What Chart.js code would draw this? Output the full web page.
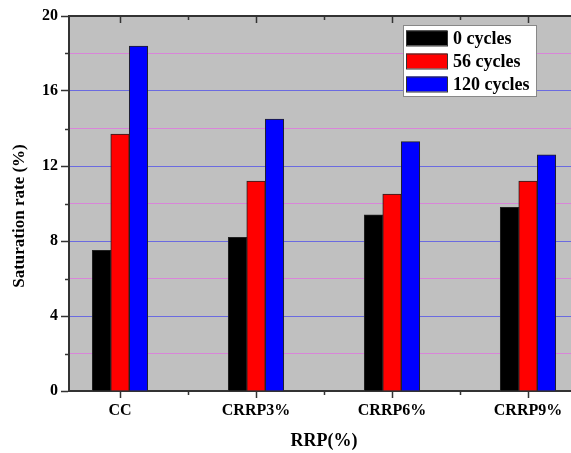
<!DOCTYPE html>
<html>
<head>
<meta charset="utf-8">
<script src="https://cdn.jsdelivr.net/npm/chart.js@4/dist/chart.umd.min.js"></script>
<style>
html, body { margin: 0; padding: 0; overflow: hidden; background: #fff; }
#wrap { width: 580px; height: 453px; }
</style>
</head>
<body>
<div id="wrap"><canvas id="chart" width="580" height="453"></canvas></div>
<script>
// Data
var categories = ["CC", "CRRP3%", "CRRP6%", "CRRP9%"];
var seriesNames = ["0 cycles", "56 cycles", "120 cycles"];
var cycles0 = [7.5, 8.2, 9.4, 9.8];
var cycles56 = [13.7, 11.2, 10.5, 11.2];
var cycles120 = [18.4, 14.5, 13.3, 12.6];
var yTickLabels = [0, 4, 8, 12, 16, 20];

var colors = ["#000000", "#ff0000", "#0000ff"];
var FONT = "'Liberation Serif', 'Times New Roman', serif";

function toPoints(arr) {
  return arr.map(function (v, i) { return { x: i, y: v }; });
}

function isMajorY(v) { return yTickLabels.indexOf(v) >= 0; }

// Background, frame, minor ticks, legend and y title
var framePlugin = {
  id: "frame",
  beforeDraw: function (chart) {
    var a = chart.chartArea, ctx = chart.ctx;
    ctx.save();
    ctx.fillStyle = "#c0c0c0";
    ctx.fillRect(a.left, a.top, a.right - a.left, a.bottom - a.top);
    ctx.restore();
  },
  afterDraw: function (chart) {
    var a = chart.chartArea, ctx = chart.ctx;
    var xs = chart.scales.x, ys = chart.scales.y;
    ctx.save();
    ctx.strokeStyle = "#333";
    ctx.lineWidth = 2;
    ctx.beginPath();
    ctx.moveTo(a.left, a.top);
    ctx.lineTo(a.right, a.top);
    ctx.stroke();

    ctx.lineWidth = 1.5;
    // x ticks on top (inward) and minor ticks at bottom
    for (var v = 0; v <= categories.length - 1; v += 0.5) {
      var px = Math.round(xs.getPixelForValue(v)) + 0.5;
      var major = v % 1 === 0;
      ctx.beginPath();
      ctx.moveTo(px, a.top);
      ctx.lineTo(px, a.top + (major ? 7 : 4));
      if (!major) {
        ctx.moveTo(px, a.bottom);
        ctx.lineTo(px, a.bottom + 4);
      }
      ctx.stroke();
    }
    // y minor ticks
    for (var t = 2; t < 20; t += 4) {
      var py = Math.round(ys.getPixelForValue(t)) + 0.5;
      ctx.beginPath();
      ctx.moveTo(a.left - 4, py);
      ctx.lineTo(a.left, py);
      ctx.stroke();
    }

    // y axis title
    ctx.fillStyle = "#000";
    ctx.font = "bold 17px " + FONT;
    ctx.textAlign = "center";
    ctx.textBaseline = "middle";
    ctx.translate(20, 216);
    ctx.rotate(-Math.PI / 2);
    ctx.fillText("Saturation rate (%)", 0, 0);
    ctx.setTransform(1, 0, 0, 1, 0, 0);

    // legend box
    ctx.fillStyle = "#fff";
    ctx.fillRect(403, 25, 133, 71);
    ctx.strokeStyle = "#888";
    ctx.lineWidth = 1;
    ctx.strokeRect(403.5, 25.5, 133, 71);
    ctx.font = "bold 18px " + FONT;
    ctx.textAlign = "left";
    chart.data.datasets.forEach(function (ds, i) {
      var cy = 38 + i * 23;
      ctx.fillStyle = ds.backgroundColor;
      ctx.fillRect(406, cy - 7.5, 41, 15);
      ctx.strokeStyle = "#333";
      ctx.strokeRect(406.5, cy - 7, 41, 15);
      ctx.fillStyle = "#000";
      ctx.fillText(ds.label, 453, cy + 1);
    });
    ctx.restore();
  }
};

var datasets = [cycles0, cycles56, cycles120].map(function (arr, i) {
  return {
    label: seriesNames[i],
    data: toPoints(arr),
    backgroundColor: colors[i],
    borderColor: "#222",
    borderWidth: 1,
    barThickness: 18.5
  };
});

new Chart(document.getElementById("chart"), {
  type: "bar",
  data: { datasets: datasets },
  plugins: [framePlugin],
  options: {
    responsive: false,
    animation: false,
    layout: { padding: { top: 16, right: 1, left: 0, bottom: 0 } },
    plugins: { legend: { display: false }, tooltip: { enabled: false } },
    scales: {
      x: {
        type: "linear",
        offset: false,
        min: -0.375,
        max: categories.length - 1 + 0.375,
        afterBuildTicks: function (scale) {
          var ticks = [];
          for (var i = 0; i < categories.length; i++) ticks.push({ value: i });
          scale.ticks = ticks;
        },
        afterFit: function (scale) { scale.height = 62; },
        grid: { offset: false, drawOnChartArea: false, tickLength: 7, tickColor: "#333", tickWidth: 1.5 },
        border: { color: "#333", width: 2 },
        ticks: {
          autoSkip: false,
          maxRotation: 0,
          padding: 3,
          color: "#000",
          font: { family: FONT, size: 16, weight: "bold" },
          callback: function (v) { return categories[v]; }
        },
        title: {
          display: true,
          text: "RRP(%)",
          color: "#000",
          font: { family: FONT, size: 18, weight: "bold" },
          padding: { top: 0, bottom: 1 }
        }
      },
      y: {
        min: 0,
        max: 20,
        afterFit: function (scale) { scale.width = 69; },
        grid: {
          tickLength: 8,
          lineWidth: 1,
          tickWidth: 1.5,
          color: function (c) {
            var v = c.tick.value;
            if (v === 0 || v === 20) return "#333";
            return isMajorY(v) ? "#6b6be0" : "#d985d9";
          },
          tickColor: function (c) {
            return isMajorY(c.tick.value) ? "#333" : "rgba(0,0,0,0)";
          }
        },
        border: { color: "#333", width: 2 },
        ticks: {
          stepSize: 2,
          padding: 3,
          color: "#000",
          font: { family: FONT, size: 16, weight: "bold" },
          callback: function (v) { return isMajorY(v) ? v : ""; }
        }
      }
    }
  }
});
</script>
</body>
</html>
